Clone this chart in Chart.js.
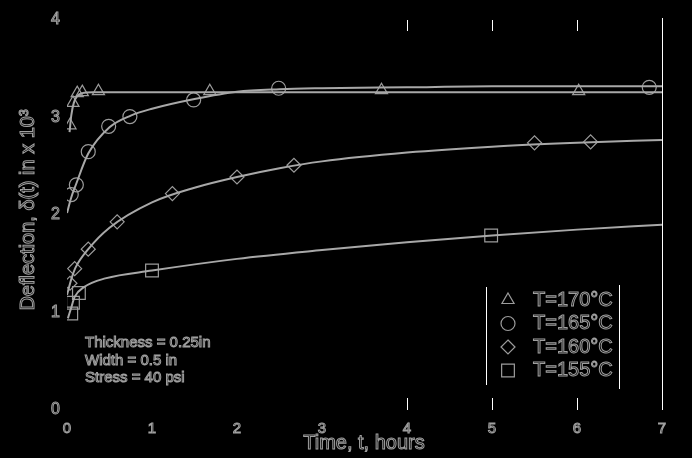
<!DOCTYPE html>
<html>
<head>
<meta charset="utf-8">
<script src="https://cdn.jsdelivr.net/npm/chart.js@4.4.1/dist/chart.umd.min.js"></script>
<style>
  html, body { margin: 0; padding: 0; background: #000; }
  #wrap { width: 692px; height: 458px; }
</style>
</head>
<body>
<div id="wrap"><canvas id="creep"></canvas></div>
<script>
var seriesNames = ['T=170°C', 'T=165°C', 'T=160°C', 'T=155°C'];
var t170 = [0.035, 0.07, 0.12, 0.18, 0.37, 1.68, 3.70, 6.02];
var d170 = [2.92, 3.15, 3.25, 3.26, 3.27, 3.27, 3.28, 3.27];
var t165 = [0.05, 0.11, 0.25, 0.49, 0.74, 1.49, 2.49, 6.85];
var d165 = [2.21, 2.31, 2.65, 2.91, 3.01, 3.18, 3.30, 3.31];
var t160 = [0.035, 0.09, 0.25, 0.59, 1.24, 2.0, 2.67, 5.50, 6.16];
var d160 = [1.30, 1.45, 1.65, 1.93, 2.22, 2.39, 2.51, 2.74, 2.75];
var t155 = [0.05, 0.07, 0.14, 1.0, 4.99];
var d155 = [0.99, 1.10, 1.20, 1.43, 1.79];

// fitted curves
var fitT170 = [0.03, 0.05, 0.08, 0.12, 0.18, 0.3, 1, 3, 5, 7];
var fit170 = [2.85, 3.02, 3.15, 3.22, 3.25, 3.26, 3.26, 3.26, 3.26, 3.26];
var fitT165 = [0, 0.05, 0.1, 0.25, 0.5, 0.75, 1, 1.5, 2, 2.5, 3, 4, 5, 6, 7];
var fit165 = [2.02, 2.18, 2.3, 2.63, 2.9, 3.02, 3.09, 3.19, 3.265, 3.29, 3.30, 3.31, 3.32, 3.32, 3.32];
var fitT160 = [0.0, 0.05, 0.1, 0.25, 0.5, 1, 1.5, 2, 2.5, 3, 4, 5, 6, 7];
var fit160 = [1.18, 1.34, 1.46, 1.65, 1.87, 2.13, 2.28, 2.39, 2.48, 2.55, 2.64, 2.70, 2.74, 2.77];
var fitT155 = [0.01, 0.05, 0.09, 0.2, 0.45, 1, 2, 3, 4, 5, 6, 7];
var fit155 = [0.94, 1.05, 1.16, 1.26, 1.35, 1.43, 1.55, 1.64, 1.72, 1.79, 1.85, 1.90];

var xTicks = [0, 1, 2, 3, 4, 5, 6, 7];
var yTicks = [0, 1, 2, 3, 4];
var whiteTickHours = [4, 5, 6];
var notes = ['Thickness = 0.25in', 'Width = 0.5 in', 'Stress = 40 psi'];

var lineGray = '#a8a8a8';
var markGray = '#9c9c9c';
var textGray = '#a0a0a0';
var fontName = '"Liberation Sans", Arial, sans-serif';

function pts(xs, ys) {
    return xs.map(function (x, i) { return { x: x, y: ys[i] }; });
}

function fitLine(xs, ys) {
    return {
        type: 'line',
        data: pts(xs, ys),
        borderColor: lineGray,
        borderWidth: 2,
        pointRadius: 0,
        cubicInterpolationMode: 'monotone',
        fill: false
    };
}

function marks(xs, ys, style, r) {
    return {
        type: 'scatter',
        data: pts(xs, ys),
        pointStyle: style,
        pointRadius: r,
        pointBorderColor: markGray,
        pointBackgroundColor: 'rgba(0,0,0,0)',
        pointBorderWidth: 1.2
    };
}

var styles = ['triangle', 'circle', 'rectRot', 'rect'];

function outlineText(ctx, str, x, y, size, align) {
    ctx.font = size + 'px ' + fontName;
    ctx.textAlign = align || 'left';
    ctx.textBaseline = 'middle';
    ctx.strokeStyle = textGray;
    ctx.lineWidth = 1;
    ctx.strokeText(str, x, y);
}

function drawShape(ctx, s, x, y, r) {
    if (s === 'triangle') {
        ctx.moveTo(x, y - r);
        ctx.lineTo(x + r * 0.866, y + r * 0.5);
        ctx.lineTo(x - r * 0.866, y + r * 0.5);
        ctx.closePath();
    } else if (s === 'circle') {
        ctx.arc(x, y, r, 0, Math.PI * 2);
    } else if (s === 'rectRot') {
        ctx.moveTo(x, y - r); ctx.lineTo(x + r, y);
        ctx.lineTo(x, y + r); ctx.lineTo(x - r, y);
        ctx.closePath();
    } else {
        var h = r * Math.SQRT1_2;
        ctx.rect(x - h, y - h, 2 * h, 2 * h);
    }
}

var extras = {
    id: 'extras',
    afterDraw: function (chart) {
        var ctx = chart.ctx;
        var xs = chart.scales.x;
        var a = chart.chartArea;
        ctx.save();
        // white frame bits
        ctx.strokeStyle = '#ffffff';
        ctx.lineWidth = 1;
        ctx.beginPath();
        ctx.moveTo(a.right + 0.5, a.top - 2);
        ctx.lineTo(a.right + 0.5, a.bottom);
        whiteTickHours.forEach(function (h) {
            var px = Math.round(xs.getPixelForValue(h)) + 0.5;
            ctx.moveTo(px, a.top);
            ctx.lineTo(px, a.top + 11);
            ctx.moveTo(px, a.bottom - 12);
            ctx.lineTo(px, a.bottom);
        });
        ctx.stroke();

        // axis titles
        outlineText(ctx, 'Time, t, hours', 364, 443, 20, 'center');
        ctx.save();
        ctx.translate(28, 210);
        ctx.rotate(-Math.PI / 2);
        outlineText(ctx, 'Deflection, δ(t) in x 10³', 0, 0, 20, 'center');
        ctx.restore();

        // notes
        notes.forEach(function (s, i) {
            outlineText(ctx, s, 85, 343 + i * 17.5, 15, 'left');
        });

        // legend box
        var lx = 486, rx = 619;
        ctx.strokeStyle = '#ffffff';
        ctx.beginPath();
        ctx.moveTo(lx + 0.5, 287); ctx.lineTo(lx + 0.5, 385);
        ctx.moveTo(rx + 0.5, 285); ctx.lineTo(rx + 0.5, 389);
        ctx.stroke();
        seriesNames.forEach(function (name, i) {
            var cy = 300 + i * 23.5;
            ctx.strokeStyle = markGray;
            ctx.lineWidth = 1.2;
            ctx.beginPath();
            drawShape(ctx, styles[i], 508, cy, i === 3 ? 9 : 7);
            ctx.stroke();
            outlineText(ctx, name, 533, cy, 20, 'left');
        });
        ctx.restore();
    }
};

var ctx = document.getElementById('creep').getContext('2d');
var myChart = new Chart(ctx, {
    data: {
        datasets: [
            fitLine(fitT170, fit170),
            fitLine(fitT165, fit165),
            fitLine(fitT160, fit160),
            fitLine(fitT155, fit155),
            marks(t170, d170, 'triangle', 7),
            marks(t165, d165, 'circle', 7),
            marks(t160, d160, 'rectRot', 7),
            marks(t155, d155, 'rect', 9)
        ]
    },
    options: {
        responsive: true,
        maintainAspectRatio: false,
        animation: false,
        layout: { padding: { top: 20, right: 30, left: 0, bottom: 0 } },
        plugins: {
            legend: { display: false },
            tooltip: { enabled: false }
        },
        scales: {
            x: {
                type: 'linear',
                min: 0,
                max: 7,
                afterBuildTicks: function (s) { s.ticks = xTicks.map(function (v) { return { value: v }; }); },
                afterFit: function (s) { s.height = 48; },
                grid: { display: false, drawTicks: false },
                border: { display: false },
                ticks: {
                    padding: 10,
                    color: 'rgba(0,0,0,0)',
                    textStrokeColor: textGray,
                    textStrokeWidth: 1,
                    font: { family: fontName, size: 15 }
                }
            },
            y: {
                type: 'linear',
                min: 0,
                max: 4,
                afterBuildTicks: function (s) { s.ticks = yTicks.map(function (v) { return { value: v }; }); },
                afterFit: function (s) { s.width = 67; },
                grid: { display: false, drawTicks: false },
                border: { display: false },
                ticks: {
                    padding: 7,
                    color: 'rgba(0,0,0,0)',
                    textStrokeColor: textGray,
                    textStrokeWidth: 1,
                    font: { family: fontName, size: 16 }
                }
            }
        }
    },
    plugins: [extras]
});
</script>
</body>
</html>
